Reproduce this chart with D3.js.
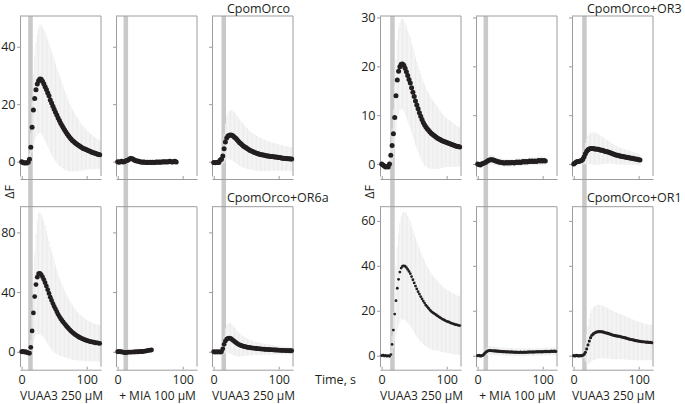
<!DOCTYPE html>
<html>
<head>
<meta charset="utf-8">
<script src="https://cdn.jsdelivr.net/npm/d3@7"></script>
<style>
  body { margin: 0; background: #fff; }
  text { font-family: 'Open Sans', sans-serif; fill: #231f20; }
</style>
</head>
<body>
<script>
const w = 685, h = 404;
const step = 2; // seconds between samples

// CpomOrco (top left block)
const orcoVuaa1 = [0,-0.3,-0.5,-0.4,-0.5,-0.2, 0.8,5,12,18,22, 25,27,28.2,28.8,28.7, 28,27.1,26.1,25.1,24,
  22.9,21.5,20.4,19.3,18.2, 17.2,16.2,15.2,14.3,13.4, 12.6,11.8,11,10.3,9.6, 9,8.4,7.9,7.4,7,
  6.6,6.2,5.9,5.6,5.3, 5,4.7,4.5,4.3,4.1, 3.9,3.7,3.5,3.3,3.1, 3,2.8,2.7,2.5,2.4];
const orcoVuaa1Sd = [1,1,1,1,1,1.2, 2,5,9,12.5,15, 16.5,17.5,18.3,18.8,19, 19,19,18.9,18.8,18.7,
  18.5,18.3,18,17.7,17.4, 17,16.6,16.2,15.8,15.3, 14.8,14.3,13.8,13.3,12.8, 12.3,11.8,11.3,10.8,10.4,
  10,9.6,9.2,8.8,8.4, 8.1,7.8,7.5,7.2,6.9, 6.7,6.4,6.2,6,5.8, 5.6,5.4,5.2,5.1,5];
const orcoMia = [0,-0.2,0,0.1,-0.1,0, 0.2,0.4,0.6,0.9,1.1, 1,0.8,0.5,0.3,0.2, 0.1,0,-0.1,-0.2,-0.1,
  -0.2,-0.3,-0.2,-0.3,-0.2, -0.3,-0.2,-0.3,-0.2,-0.1, -0.2,-0.1,-0.2,-0.1,0, -0.1,0,-0.1,0,0.1,
  0,-0.1,0,0.1,-0.1];
const orcoMiaSd = [0.8,0.8,0.8,0.8,0.8,0.8, 0.9,1,1.1,1.2,1.2, 1.2,1.2,1.1,1.1,1, 1,1,1,1,1,
  1,1,1,1,1, 1,1,1,1,1, 1,1,1,1,1, 1,1,1,1,1, 1,1,1,1,1];
const orcoVuaa2 = [-0.3,-0.4,-0.3,-0.2,-0.3,0.6, 0.8,2,4.5,6.8,8.2, 8.9,9.2,9.3,9.2,8.9, 8.5,8.1,7.6,7.1,6.6,
  6.2,5.8,5.4,5.1,4.8, 4.5,4.2,3.9,3.7,3.5, 3.3,3.1,2.9,2.8,2.6, 2.5,2.4,2.3,2.2,2.1,
  2,2,1.9,1.8,1.8, 1.7,1.6,1.6,1.5,1.4, 1.4,1.3,1.2,1.2,1.1, 1.1,1,1,0.9,0.9];
const orcoVuaa2Sd = [0.8,0.8,0.8,0.8,0.8,0.8, 1.5,3,5,6.5,7.5, 8,8.4,8.6,8.7,8.7, 8.6,8.5,8.4,8.3,8.1,
  8,7.8,7.6,7.4,7.2, 7,6.8,6.7,6.5,6.4, 6.3,6.2,6.1,6,5.9, 5.8,5.7,5.6,5.5,5.4,
  5.3,5.2,5.1,5,4.9, 4.8,4.8,4.7,4.6,4.6, 4.5,4.5,4.4,4.4,4.3, 4.3,4.2,4.2,4.1,4.1];

// CpomOrco+OR6a (bottom left block)
const or6aVuaa1 = [0,0.3,-0.2,0,-0.5,-0.8, -1,3,14,26,37, 45,50,52.3,52.5,51.6, 50.2,48.4,46.3,44,41.6,
  39.1,36.6,34.4,32.3,30.4, 28.6,26.9,25.1,23.6,22.2, 21,19.8,18.7,17.6,16.6, 15.6,14.7,13.8,13,12.3,
  11.6,11,10.4,9.9,9.4, 9,8.6,8.2,7.9,7.6, 7.3,7,6.8,6.6,6.4, 6.2,6,5.9,5.8,5.6];
const or6aVuaa1Sd = [1.5,1.5,1.5,1.5,1.5,1.5, 2,5,12,20,28, 34,38,40.5,41,40.5, 39.8,39,38,37,36,
  35,34,33,32,30.8, 29.6,28.4,27.2,26,25, 24,23.2,22.4,21.6,20.9, 20.2,19.5,18.9,18.3,17.7,
  17.2,16.7,16.2,15.8,15.4, 15,14.7,14.4,14.1,13.8, 13.6,13.4,13.2,13,12.8, 12.7,12.6,12.5,12.4,12.3];
const or6aMia = [0,0.2,-0.1,0,-0.3,-0.5, -0.6,-0.5,-0.3,-0.2,-0.3, -0.2,-0.1,-0.2,0,-0.1,
  0,0.1,0.2,0.1,0.3, 0.4,0.6,0.8,1,1.1, 1.2];
const or6aMiaSd = [1.2,1.2,1.2,1.2,1.2,1.2, 1.2,1.3,1.3,1.4,1.4, 1.4,1.4,1.4,1.4,1.4,
  1.4,1.4,1.4,1.4,1.4, 1.5,1.5,1.5,1.5,1.5, 1.5];
const or6aVuaa2 = [0,-0.3,0,-0.2,0,-0.3, 0,2,5,7.2,8.4, 9,9.2,8.9,8.3,7.6, 6.9,6.2,5.6,5,4.6,
  4.2,3.9,3.6,3.4,3.2, 3,2.9,2.7,2.6,2.5, 2.4,2.3,2.2,2.1,2, 1.9,1.8,1.8,1.7,1.6,
  1.6,1.5,1.4,1.4,1.3, 1.3,1.2,1.2,1.1,1.1, 1,1,0.9,0.9,0.8, 0.8,0.8,0.7,0.7,0.7];
const or6aVuaa2Sd = [1.5,1.5,1.5,1.5,1.5,1.5, 1.5,3,6,8.5,9.5, 10,10.2,10.2,10,9.7, 9.4,9,8.6,8.2,7.8,
  7.4,7,6.6,6.3,6, 5.7,5.4,5.2,5,4.8, 4.6,4.5,4.4,4.3,4.2, 4.1,4,3.9,3.8,3.7,
  3.6,3.5,3.4,3.3,3.2, 3.1,3,3,2.9,2.9, 2.8,2.8,2.7,2.7,2.6, 2.6,2.5,2.5,2.4,2.4];

// CpomOrco+OR3 (top right block)
const or3Vuaa1 = [0,-0.2,-0.4,-0.6,-0.5,-0.6, 0,1.8,3.8,6.2,9.5, 14,17.2,19,19.9,20.4, 20.5,20.2,19.6,18.9,18.1,
  17.3,16.6,15.6,14.7,13.8, 12.9,12.1,11.3,10.5,9.8, 9.1,8.5,8,7.6,7.2, 6.9,6.6,6.3,6.1,5.9,
  5.7,5.5,5.3,5.1,5, 4.8,4.7,4.6,4.5,4.4, 4.3,4.2,4.1,4,3.9, 3.8,3.7,3.6,3.6,3.5];
const or3Vuaa1Sd = [0.6,0.6,0.6,0.6,0.6,0.6, 1,2,3.5,5,6.5, 7.5,8.2,8.7,9,9.2, 9.3,9.3,9.3,9.3,9.3,
  9.3,9.3,9.2,9.2,9.1, 9,8.9,8.8,8.7,8.6, 8.5,8.4,8.3,8.1,7.9, 7.7,7.5,7.3,7.1,6.9,
  6.7,6.5,6.3,6.1,5.9, 5.7,5.5,5.3,5.1,5, 4.9,4.8,4.7,4.6,4.5, 4.4,4.3,4.2,4.1,4];
const or3Mia = [0,-0.1,-0.2,0,0.1,0.2, 0.3,0.5,0.7,0.8,0.9, 0.9,0.8,0.7,0.6,0.5, 0.4,0.4,0.3,0.3,0.2,
  0.2,0.3,0.2,0.3,0.2, 0.3,0.3,0.2,0.3,0.4, 0.3,0.4,0.3,0.4,0.5, 0.4,0.5,0.4,0.5,0.6,
  0.5,0.6,0.5,0.6,0.5, 0.6,0.7,0.6,0.7,0.6, 0.7,0.6];
const or3MiaSd = [0.5,0.5,0.5,0.5,0.5,0.5, 0.6,0.7,0.8,0.9,1, 1,1,0.9,0.9,0.8, 0.8,0.8,0.8,0.8,0.8,
  0.8,0.8,0.8,0.8,0.8, 0.8,0.8,0.8,0.8,0.8, 0.8,0.8,0.8,0.8,0.8, 0.8,0.8,0.8,0.8,0.8,
  0.8,0.8,0.8,0.8,0.8, 0.9,0.9,0.9,0.9,0.9, 0.9,0.9];
const or3Vuaa2 = [0,0.2,0.4,0.5,0.5,0.6, 0.7,1,1.5,2.1,2.6, 2.9,3.1,3.2,3.2,3.2, 3.1,3.1,3,3,2.9,
  2.8,2.8,2.7,2.6,2.5, 2.5,2.4,2.3,2.2,2.1, 2,1.9,1.8,1.8,1.7, 1.6,1.6,1.5,1.5,1.4,
  1.4,1.3,1.3,1.2,1.2, 1.1,1.1,1,1,0.9, 0.8];
const or3Vuaa2Sd = [0.5,0.5,0.5,0.5,0.5,0.5, 0.5,1,1.6,2.2,2.6, 2.9,3.1,3.2,3.3,3.3, 3.3,3.3,3.2,3.1,3,
  2.9,2.8,2.7,2.6,2.5, 2.4,2.3,2.2,2.1,2, 2,1.9,1.9,1.8,1.8, 1.7,1.7,1.6,1.6,1.5,
  1.5,1.5,1.4,1.4,1.4, 1.3,1.3,1.3,1.2,1.2, 1.2];

// CpomOrco+OR1 (bottom right block)
const or1Vuaa1 = [0,0.2,-0.1,0.1,-0.2,0, -0.3,0.5,5,11.4,18.5, 24.5,30,34,37.2,39, 39.8,40,39.8,39.2,38.4,
  37.5,36.5,35.2,33.8,32.4, 31,29.7,28.5,27.4,26.3, 25.3,24.3,23.4,22.5,21.8, 21.1,20.4,19.8,19.3,18.9,
  18.5,18.1,17.7,17.3,16.9, 16.5,16.2,15.9,15.6,15.3, 15.1,14.9,14.6,14.4,14.2, 14,13.8,13.7,13.5,13.4];
const or1Vuaa1Sd = [1,1,1,1,1,1, 1,1.5,4,8,12, 15.5,18.5,20.5,22,23, 23.6,24,24,24,23.8,
  23.5,23.2,22.8,22.4,22, 21.6,21.2,20.8,20.4,20, 19.6,19.2,18.8,18.4,18, 17.6,17.3,17,16.7,16.4,
  16.1,15.8,15.5,15.2,15, 14.8,14.6,14.4,14.2,14, 13.9,13.8,13.7,13.6,13.5, 13.4,13.3,13.2,13.1,13];
const or1Mia = [0,0.1,-0.1,0,0.2,0.8, 1.4,1.9,2.2,2.3,2.3, 2.2,2.2,2.1,2.1,2, 2,1.9,1.9,1.8,1.8,
  1.8,1.7,1.7,1.7,1.6, 1.7,1.6,1.6,1.5,1.6, 1.5,1.5,1.6,1.5,1.5, 1.6,1.5,1.6,1.6,1.7,
  1.6,1.7,1.6,1.7,1.7, 1.8,1.7,1.8,1.7,1.8, 1.8,1.9,1.8,1.9,1.8, 1.9,2,1.9,2,1.9];
const or1MiaSd = [0.6,0.6,0.6,0.6,0.7,1, 1.3,1.6,1.8,1.9,1.9, 1.9,1.9,1.9,1.9,1.9, 1.8,1.8,1.8,1.8,1.8,
  1.8,1.8,1.8,1.8,1.8, 1.7,1.7,1.7,1.7,1.7, 1.7,1.7,1.7,1.7,1.7, 1.7,1.7,1.7,1.7,1.7,
  1.7,1.7,1.7,1.7,1.7, 1.7,1.7,1.7,1.7,1.7, 1.7,1.7,1.7,1.7,1.7, 1.7,1.7,1.7,1.7,1.7];
const or1Vuaa2 = [0,-0.1,0.1,0,-0.1,0, 0,0.2,0.6,1.5,3, 4.8,6.5,8,9.1,9.7, 10.1,10.4,10.6,10.7,10.7,
  10.7,10.6,10.5,10.3,10.1, 10,9.8,9.6,9.4,9.2, 9,8.9,8.8,8.7,8.6, 8.5,8.3,8.2,8,7.9,
  7.7,7.5,7.4,7.2,7.1, 7,6.8,6.7,6.6,6.5, 6.4,6.3,6.2,6.2,6.1, 6,6,5.9,5.9,5.8];
const or1Vuaa2Sd = [1,1,1,1,1,1, 1,1,2,4,6.5, 8.5,10,11,11.5,11.8, 12,12,12,12,11.9,
  11.8,11.7,11.6,11.5,11.4, 11.3,11.2,11,10.9,10.8, 10.6,10.5,10.4,10.3,10.2, 10,9.9,9.8,9.7,9.6,
  9.5,9.4,9.3,9.2,9.1, 9,8.9,8.8,8.7,8.6, 8.5,8.4,8.3,8.2,8.1, 8,8,7.9,7.9,7.8];

const titles = ['CpomOrco', 'CpomOrco+OR6a', 'CpomOrco+OR3', 'CpomOrco+OR1'];
const conditions = ['VUAA3 250 µM', '+ MIA 100 µM', 'VUAA3 250 µM'];
const xTicks = [0, 100];
const yTicks = [[0, 20, 40], [0, 40, 80], [0, 10, 20, 30], [0, 20, 40, 60]];
const yDomains = [[-5, 50.7], [-10, 97.2], [-2.45, 30.3], [-4.9, 66.3]];
const stimStart = [[10, 9, 12], [13, 9, 13]];
const stimDur = 7;

const panels = [
  { block: 0, col: 0, mean: orcoVuaa1, sd: orcoVuaa1Sd, r: 2.5 },
  { block: 0, col: 1, mean: orcoMia, sd: orcoMiaSd, r: 2.5 },
  { block: 0, col: 2, mean: orcoVuaa2, sd: orcoVuaa2Sd, r: 2.5 },
  { block: 1, col: 0, mean: or6aVuaa1, sd: or6aVuaa1Sd, r: 2.4 },
  { block: 1, col: 1, mean: or6aMia, sd: or6aMiaSd, r: 2.4 },
  { block: 1, col: 2, mean: or6aVuaa2, sd: or6aVuaa2Sd, r: 2.4 },
  { block: 2, col: 0, mean: or3Vuaa1, sd: or3Vuaa1Sd, r: 2.5 },
  { block: 2, col: 1, mean: or3Mia, sd: or3MiaSd, r: 2.5 },
  { block: 2, col: 2, mean: or3Vuaa2, sd: or3Vuaa2Sd, r: 2.5 },
  { block: 3, col: 0, mean: or1Vuaa1, sd: or1Vuaa1Sd, r: 1.4 },
  { block: 3, col: 1, mean: or1Mia, sd: or1MiaSd, r: 1.6 },
  { block: 3, col: 2, mean: or1Vuaa2, sd: or1Vuaa2Sd, r: 1.6 }
];

// layout
const groupLeft = [20, 380],
  colStep = 96,
  panelW = 81,
  rowTop = [16, 206.7],
  panelH = 160,
  frameColor = '#9d9d9d';

const svg = d3.select('body')
  .append('svg')
  .attr('width', w)
  .attr('height', h);

const xFor = (g, col) => {
  const x0 = groupLeft[g] + col * colStep;
  return d3.scaleLinear().domain([-2.6, 122]).range([x0, x0 + panelW]);
};

// stimulus bars run through both rows
const bars = svg.append('g');
[0, 1].forEach(g => {
  [0, 1, 2].forEach(col => {
    const xs = xFor(g, col);
    bars.append('rect')
      .attr('x', xs(stimStart[g][col]))
      .attr('y', rowTop[0])
      .attr('width', xs(stimStart[g][col] + stimDur) - xs(stimStart[g][col]))
      .attr('height', rowTop[1] + panelH + 3.5 - rowTop[0])
      .attr('fill', '#c9c9c9');
  });
});

panels.forEach(p => {
  const g = Math.floor(p.block / 2), row = p.block % 2;
  const top = rowTop[row];
  const xs = xFor(g, p.col);
  const ys = d3.scaleLinear().domain(yDomains[p.block]).range([top + panelH, top]);
  const pts = p.mean.map((v, i) => ({ t: i * step, v: v, sd: p.sd[i] }));
  const pg = svg.append('g');

  // error bars
  pg.selectAll('line.err')
    .data(pts)
    .enter()
    .append('line')
    .attr('class', 'err')
    .attr('x1', d => xs(d.t))
    .attr('x2', d => xs(d.t))
    .attr('y1', d => ys(d.v - d.sd))
    .attr('y2', d => ys(d.v + d.sd))
    .attr('stroke', '#ececec')
    .attr('stroke-width', 1);

  // frame: top and right
  pg.append('line')
    .attr('x1', xs.range()[0]).attr('x2', xs.range()[1])
    .attr('y1', top).attr('y2', top)
    .attr('stroke', frameColor);
  pg.append('line')
    .attr('x1', xs.range()[1]).attr('x2', xs.range()[1])
    .attr('y1', top).attr('y2', top + panelH)
    .attr('stroke', frameColor);

  const yAxis = d3.axisLeft(ys)
    .tickValues(yTicks[p.block])
    .tickSizeInner(3)
    .tickSizeOuter(0)
    .tickPadding(1.5);
  if (p.col > 0) yAxis.tickFormat('');
  const ya = pg.append('g')
    .attr('transform', `translate(${xs.range()[0]},0)`)
    .call(yAxis);

  const xAxis = d3.axisBottom(xs)
    .tickValues(xTicks)
    .tickSizeInner(-3)
    .tickSizeOuter(0)
    .tickPadding(5.1);
  if (row === 0) xAxis.tickFormat('');
  const xa = pg.append('g')
    .attr('transform', `translate(0,${top + panelH + 3})`)
    .call(xAxis);

  [ya, xa].forEach(a => {
    a.selectAll('path, line').attr('stroke', frameColor);
    a.selectAll('text')
      .attr('font-family', "'Open Sans', sans-serif")
      .attr('font-size', '12.5px')
      .attr('fill', '#231f20');
  });

  // mean trace
  pg.selectAll('circle')
    .data(pts)
    .enter()
    .append('circle')
    .attr('cx', d => xs(d.t))
    .attr('cy', d => ys(d.v))
    .attr('r', p.r)
    .attr('fill', '#231f20');
});

// titles
titles.forEach((t, b) => {
  const g = Math.floor(b / 2), row = b % 2;
  svg.append('text')
    .attr('x', groupLeft[g] + 2 * colStep + 15)
    .attr('y', row === 0 ? 13.2 : 201.8)
    .attr('font-size', '12.5px')
    .text(t);
});

// condition labels
[0, 1].forEach(g => {
  conditions.forEach((c, col) => {
    const xs = xFor(g, col);
    svg.append('text')
      .attr('x', (xs.range()[0] + xs.range()[1]) / 2 + 1)
      .attr('y', 400.3)
      .attr('text-anchor', 'middle')
      .attr('font-size', '12px')
      .text(c);
  });
  svg.append('text')
    .attr('transform', `translate(${groupLeft[g] - 6.5 + g * 0.5},192) rotate(-90)`)
    .attr('text-anchor', 'middle')
    .attr('font-size', '12.5px')
    .text('ΔF');
});

svg.append('text')
  .attr('x', 315)
  .attr('y', 384)
  .attr('font-size', '12.5px')
  .text('Time, s');
</script>
</body>
</html>
